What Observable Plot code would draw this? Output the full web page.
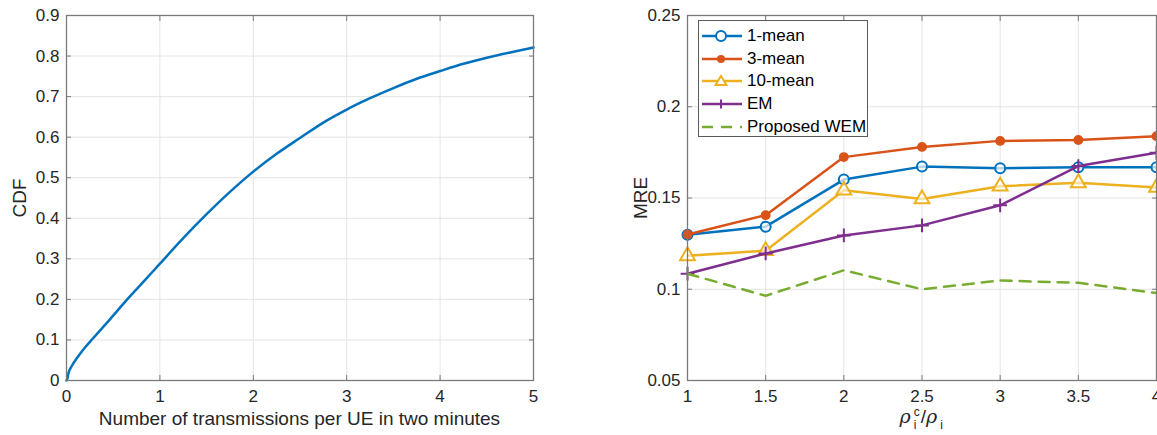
<!DOCTYPE html>
<html><head><meta charset="utf-8">
<script src="https://cdn.jsdelivr.net/npm/d3@7"></script>
<script src="https://cdn.jsdelivr.net/npm/@observablehq/plot@0.6"></script>
<style>
html,body{margin:0;padding:0;background:#fff;overflow:hidden}
#wrap{position:relative;width:1157px;height:435px;font-family:"Liberation Sans",Arial,sans-serif;color:#262626;overflow:hidden}
.chart{position:absolute;top:0}
.lbl{position:absolute;font-size:19px;line-height:22px;white-space:nowrap;transform:translate(-50%,-50%)}
.rot{transform:translate(-50%,-50%) rotate(-90deg)}
#legend{position:absolute;left:698px;top:20px;width:170px;height:117px;background:#fff;border:1px solid #5a5a5a;box-sizing:border-box;font-size:17px;color:#000}
#legend .row{position:absolute;left:2px;height:22px;display:flex;align-items:center}
#legend svg{display:block;margin-right:4px}
.rho{font-family:"DejaVu Serif","Liberation Serif",serif;font-style:italic;font-size:19px;padding-right:2px}
.ss{display:inline-flex;flex-direction:column;font-size:12px;line-height:12.5px;vertical-align:middle;margin:0 1px 0 1px;position:relative;top:1px}
</style></head><body><div id="wrap"></div><script>
// ---- Left panel: CDF ----
const cdfX = [0, 0.01, 0.02, 0.06, 0.12, 0.2, 0.28, 0.47, 0.65, 0.83, 1.0, 1.25, 1.5, 1.75, 2, 2.25, 2.5, 2.75, 3, 3.25, 3.5, 3.75, 4, 4.25, 4.5, 4.75, 5];
const cdfY = [0, 0.005, 0.017, 0.037, 0.058, 0.082, 0.103, 0.152, 0.2, 0.245, 0.288, 0.351, 0.41, 0.465, 0.515, 0.559, 0.598, 0.636, 0.668, 0.696, 0.721, 0.744, 0.763, 0.781, 0.796, 0.809, 0.821];
const cdfXTicks = [0, 1, 2, 3, 4, 5];
const cdfYTicks = [0, 0.1, 0.2, 0.3, 0.4, 0.5, 0.6, 0.7, 0.8, 0.9];
const cdfXLabel = "Number of transmissions per UE in two minutes";
const cdfYLabel = "CDF";

// ---- Right panel: MRE ----
const ratio = [1, 1.5, 2, 2.5, 3, 3.5, 4];
const mean1 = [0.1299, 0.1343, 0.1601, 0.1672, 0.1663, 0.1668, 0.1668];
const mean3 = [0.1300, 0.1406, 0.1724, 0.1780, 0.1813, 0.1818, 0.1839];
const mean10 = [0.1183, 0.1211, 0.1542, 0.1494, 0.1564, 0.1583, 0.1557];
const em = [0.1085, 0.1196, 0.1295, 0.1350, 0.1460, 0.1675, 0.1748];
const wem = [0.1085, 0.0964, 0.1104, 0.1000, 0.1048, 0.1035, 0.0979];
const seriesNames = ["1-mean", "3-mean", "10-mean", "EM", "Proposed WEM"];
const seriesColors = ["#0072BD", "#D95319", "#EDB120", "#7E2F8E", "#77AC30"];
const mreXTicks = [1, 1.5, 2, 2.5, 3, 3.5, 4];
const mreYTicks = [0.05, 0.1, 0.15, 0.2, 0.25];
const mreYLabel = "MRE";

const wrap = document.getElementById("wrap");
const fmt = d => String(+d.toFixed(3));
const GRID = "#e4e4e4", AX = "#7a7a7a", TXT = "#262626";

function frameMarks(xt, yt) {
  return [
    Plot.gridX(xt, {stroke: GRID, strokeOpacity: 1}),
    Plot.gridY(yt, {stroke: GRID, strokeOpacity: 1})
  ];
}
function axesMarks(xt, yt) {
  const blank = () => "";
  return [
    Plot.axisX(xt, {anchor: "bottom", tickSize: 0, tickPadding: 9, tickFormat: fmt, label: null, fontSize: 17, fill: TXT}),
    Plot.axisY(yt, {anchor: "left", tickSize: 0, tickPadding: 7, tickFormat: fmt, label: null, fontSize: 17, fill: TXT}),
    Plot.axisX(xt, {anchor: "bottom", tickSize: -5, tickFormat: blank, label: null, stroke: AX}),
    Plot.axisX(xt, {anchor: "top", tickSize: -5, tickFormat: blank, label: null, stroke: AX}),
    Plot.axisY(yt, {anchor: "left", tickSize: -5, tickFormat: blank, label: null, stroke: AX}),
    Plot.axisY(yt, {anchor: "right", tickSize: -5, tickFormat: blank, label: null, stroke: AX}),
    Plot.frame({stroke: AX, strokeWidth: 1.3})
  ];
}

// Left chart
const cdfData = cdfX.map((x, i) => ({x, y: cdfY[i]}));
const left = Plot.plot({
  width: 580, height: 435,
  marginLeft: 66, marginRight: 47, marginTop: 15, marginBottom: 55,
  style: {fontFamily: '"Liberation Sans", Arial, sans-serif', background: "transparent", overflow: "visible"},
  x: {domain: [0, 5]},
  y: {domain: [0, 0.9]},
  marks: [
    ...frameMarks(cdfXTicks, cdfYTicks),
    Plot.line(cdfData, {x: "x", y: "y", stroke: "#0072BD", strokeWidth: 2.5, curve: "monotone-x"}),
    ...axesMarks(cdfXTicks, cdfYTicks)
  ]
});
left.classList.add("chart");
left.style.left = "0px";
wrap.appendChild(left);

// Right chart
const allSeries = [mean1, mean3, mean10, em, wem];
const mreData = allSeries.flatMap((vals, s) => vals.map((v, i) => ({x: ratio[i], y: v, s: seriesNames[s]})));
const sub = name => mreData.filter(d => d.s === name);
const right = Plot.plot({
  width: 537, height: 435,
  marginLeft: 67, marginRight: 1, marginTop: 15, marginBottom: 55,
  style: {fontFamily: '"Liberation Sans", Arial, sans-serif', background: "transparent"},
  x: {domain: [1, 4]},
  y: {domain: [0.05, 0.25]},
  marks: [
    ...frameMarks(mreXTicks, mreYTicks),
    Plot.line(sub(seriesNames[0]), {x: "x", y: "y", stroke: seriesColors[0], strokeWidth: 2.5}),
    Plot.dot(sub(seriesNames[0]), {x: "x", y: "y", r: 5, stroke: seriesColors[0], strokeWidth: 2, fill: "white", fillOpacity: 0.7}),
    Plot.line(sub(seriesNames[1]), {x: "x", y: "y", stroke: seriesColors[1], strokeWidth: 2.5}),
    Plot.dot(sub(seriesNames[1]), {x: "x", y: "y", r: 4.2, fill: seriesColors[1], stroke: seriesColors[1]}),
    Plot.line(sub(seriesNames[2]), {x: "x", y: "y", stroke: seriesColors[2], strokeWidth: 2.5}),
    Plot.dot(sub(seriesNames[2]), {x: "x", y: "y", symbol: "triangle", r: 5.5, stroke: seriesColors[2], strokeWidth: 2, fill: "white", fillOpacity: 0.6}),
    Plot.line(sub(seriesNames[3]), {x: "x", y: "y", stroke: seriesColors[3], strokeWidth: 2.5}),
    Plot.dot(sub(seriesNames[3]), {x: "x", y: "y", symbol: "plus", r: 4.5, stroke: seriesColors[3], strokeWidth: 2}),
    Plot.line(sub(seriesNames[4]), {x: "x", y: "y", stroke: seriesColors[4], strokeWidth: 2.5, strokeDasharray: "11,8"}),
    ...axesMarks(mreXTicks, mreYTicks)
  ]
});
right.classList.add("chart");
right.style.left = "620px";
wrap.appendChild(right);

// Axis labels (HTML text)
function label(html, x, y, rot) {
  const d = document.createElement("div");
  d.className = "lbl" + (rot ? " rot" : "");
  d.style.left = x + "px"; d.style.top = y + "px";
  d.innerHTML = html;
  wrap.appendChild(d);
}
label(cdfXLabel, 299.5, 419);
label(cdfYLabel, 20, 198, true);
label(mreYLabel, 641, 198, true);
label('<span class="rho">ρ</span><span class="ss"><span>c</span><span>i</span></span>/<span class="rho">ρ</span><span class="ss"><span>&nbsp;</span><span>i</span></span>', 922, 418);

// Legend
const leg = document.createElement("div");
leg.id = "legend";
const markers = [
  c => `<circle cx="20" cy="10" r="5" fill="white" stroke="${c}" stroke-width="2"/>`,
  c => `<circle cx="20" cy="10" r="4" fill="${c}"/>`,
  c => `<path d="M20,5 L25.5,14 L14.5,14 Z" fill="white" stroke="${c}" stroke-width="2"/>`,
  c => `<path d="M20,5.5 V14.5 M15.5,10 H24.5" stroke="${c}" stroke-width="2"/>`,
  c => ``
];
seriesNames.forEach((name, i) => {
  const row = document.createElement("div");
  row.className = "row";
  row.style.top = (4 + i * 22.7) + "px";
  const line = i === 4
    ? `<line x1="1" y1="10" x2="41" y2="10" stroke="${seriesColors[i]}" stroke-width="2.5" stroke-dasharray="11,8"/>`
    : `<line x1="1" y1="10" x2="41" y2="10" stroke="${seriesColors[i]}" stroke-width="2.5"/>`;
  row.innerHTML = `<svg width="42" height="20">${line}${markers[i](seriesColors[i])}</svg><span>${name}</span>`;
  leg.appendChild(row);
});
wrap.appendChild(leg);
</script></body></html>
